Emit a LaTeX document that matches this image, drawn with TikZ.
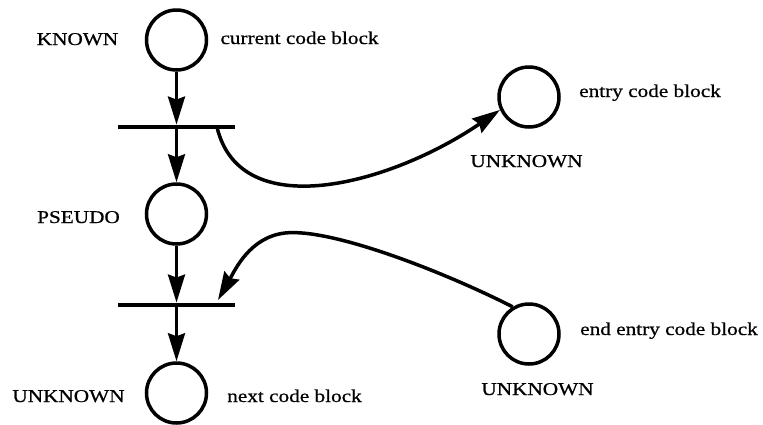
\documentclass[tikz,border=0pt]{standalone}
\usepackage{fontspec}
\setmainfont{Liberation Serif}[FakeStretch=1.18,FakeBold=0.7]
\usetikzlibrary{arrows.meta}
\begin{document}
\begin{tikzpicture}[x=1pt,y=-1pt,
  place/.style={circle,draw,line width=3.5pt,minimum size=60pt,inner sep=0pt},
  bar/.style={fill=black,inner sep=0pt,minimum width=117pt,minimum height=4.5pt},
  lbl/.style={anchor=base,inner sep=0pt,font=\fontsize{18pt}{20pt}\selectfont},
  flow/.style={line width=3.2pt,-{Stealth[length=28pt,width=17pt,inset=3pt]}},
  link/.style={line width=3.5pt,-{Stealth[length=28pt,width=17pt,inset=3pt]}}]
\useasboundingbox (0,0) rectangle (763,424);
\node[place] (cur) at (176.5,40) {};
\node[place] (pseudo) at (176.5,214) {};
\node[place] (next) at (176.5,393) {};
\node[place] (entry) at (529,97) {};
\node[place] (endentry) at (529,334) {};
\node[bar] (bar1) at (176.5,127) {};
\node[bar] (bar2) at (176.5,305) {};
\coordinate (b1r) at (217,127);
\coordinate (b2r) at (218,300);
\coordinate (peak) at (285,233);
\draw[flow] (cur.south) -- (bar1.north);
\draw[flow] (bar1.south) -- (pseudo.north);
\draw[flow] (pseudo.south) -- (bar2.north);
\draw[flow] (bar2.south) -- (next.north);
\draw[link] (b1r) .. controls (240,225) and (390,185) .. (entry.204);
\draw[link] (endentry.121) .. controls (440,270) and (330,228) .. (peak)
   .. controls (250,237) and (235,270) .. (b2r);
\node[lbl] (l1) at (77.5,45) {KNOWN};
\node[lbl] (l2) at (299.5,44) {current code block};
\node[lbl] (l3) at (78.5,223) {PSEUDO};
\node[lbl] (l4) at (68.5,402) {UNKNOWN};
\node[lbl] (l5) at (294.5,402) {next code block};
\node[lbl] (l6) at (650,97) {entry code block};
\node[lbl] (l7) at (526.5,167) {UNKNOWN};
\node[lbl] (l8) at (669,335) {end entry code block};
\node[lbl] (l9) at (537.5,395) {UNKNOWN};
\end{tikzpicture}
\end{document}
